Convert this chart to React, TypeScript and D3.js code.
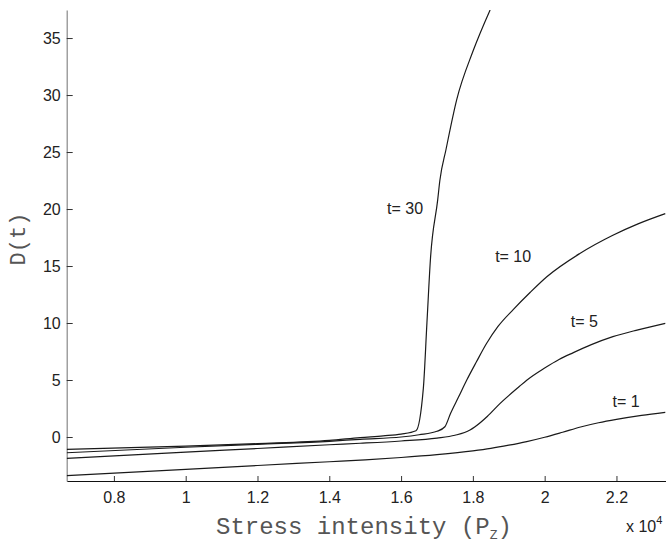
import { useRef, useEffect } from "react";
import * as d3 from "d3";

// stress intensity in units of 10^4
const xTicks = [0.8, 1, 1.2, 1.4, 1.6, 1.8, 2, 2.2];
const yTicks = [0, 5, 10, 15, 20, 25, 30, 35];

const t1X = [0.6685, 1.0, 1.2, 1.4, 1.5, 1.6, 1.7, 1.8, 1.85, 1.9, 1.95, 2.0, 2.05, 2.1, 2.15, 2.2, 2.27, 2.336];
const t1Y = [-3.39, -2.84, -2.5, -2.17, -2.0, -1.8, -1.55, -1.22, -1.0, -0.72, -0.4, -0.02, 0.42, 0.88, 1.25, 1.55, 1.9, 2.17];

const t5X = [0.6685, 1.0, 1.2, 1.4, 1.486, 1.6, 1.7, 1.75, 1.792, 1.806, 1.84, 1.876, 1.93, 1.95, 2.0, 2.04, 2.08, 2.13, 2.19, 2.26, 2.336];
const t5Y = [-1.87, -1.33, -1.01, -0.68, -0.55, -0.35, -0.1, 0.15, 0.61, 0.9, 1.8, 2.95, 4.45, 4.98, 6.05, 6.8, 7.4, 8.1, 8.8, 9.4, 9.97];

const t10X = [0.6685, 1.0, 1.2, 1.4, 1.486, 1.6, 1.65, 1.7, 1.722, 1.738, 1.76, 1.783, 1.81, 1.838, 1.87, 1.913, 1.96, 2.006, 2.098, 2.19, 2.26, 2.336];
const t10Y = [-1.38, -0.9, -0.64, -0.38, -0.2, 0.0, 0.2, 0.5, 0.9, 2.08, 3.5, 5.0, 6.6, 8.2, 9.7, 11.2, 12.7, 14.06, 16.1, 17.7, 18.7, 19.6];

const t30X = [0.6685, 1.0, 1.2, 1.4, 1.486, 1.55, 1.6, 1.6415, 1.662, 1.672, 1.682, 1.702, 1.708, 1.725, 1.755, 1.801, 1.848];
const t30Y = [-1.08, -0.8, -0.58, -0.3, -0.05, 0.1, 0.25, 0.55, 4.27, 10, 15.7, 20.8, 22.5, 25.2, 29.6, 33.9, 37.46];

const seriesNames = ["t= 1", "t= 5", "t= 10", "t= 30"];
const labelX = [2.189, 2.073, 1.862, 1.561];
const labelY = [2.66, 9.68, 15.38, 19.56];

export default function App() {
  const ref = useRef<SVGSVGElement>(null);

  useEffect(() => {
    const svg = d3.select(ref.current);
    svg.selectAll("*").remove();

    const width = 666;
    const height = 545;
    const margin = { top: 10, right: 0, bottom: 64, left: 66.7 };

    svg.attr("width", width).attr("height", height);

    const x = d3.scaleLinear()
      .domain([0.6685, 2.338])
      .range([margin.left, width - margin.right]);

    const y = d3.scaleLinear()
      .domain([-3.86, 37.46])
      .range([height - margin.bottom, margin.top]);

    svg.append("defs").append("clipPath")
      .attr("id", "plot-clip")
      .append("rect")
      .attr("x", margin.left)
      .attr("y", margin.top)
      .attr("width", width - margin.left - margin.right)
      .attr("height", height - margin.top - margin.bottom);

    const sansFont = "'Liberation Sans', Arial, Helvetica, sans-serif";
    const monoFont = "'Liberation Mono', 'Courier New', monospace";

    // x axis, ticks pointing inward
    const gx = svg.append("g")
      .attr("transform", `translate(0,${height - margin.bottom})`)
      .call(d3.axisBottom(x)
        .tickValues(xTicks)
        .tickSize(-5)
        .tickSizeOuter(0)
        .tickPadding(11)
        .tickFormat(d => String(+(+d).toFixed(1))));
    gx.select(".domain").attr("stroke", "#111").attr("stroke-width", 1.2);
    gx.selectAll(".tick line").attr("stroke", "#333");
    gx.selectAll(".tick text")
      .attr("font-family", sansFont)
      .attr("font-size", 16)
      .attr("fill", "#222");

    // y axis
    const gy = svg.append("g")
      .attr("transform", `translate(${margin.left},0)`)
      .call(d3.axisLeft(y)
        .tickValues(yTicks)
        .tickSize(-6)
        .tickSizeOuter(0)
        .tickPadding(6));
    gy.select(".domain").attr("stroke", "#888").attr("stroke-width", 1.2);
    gy.selectAll(".tick line").attr("stroke", "#333");
    gy.selectAll(".tick text")
      .attr("font-family", sansFont)
      .attr("font-size", 16)
      .attr("fill", "#222");

    const line = d3.line<[number, number]>()
      .x(d => x(d[0]))
      .y(d => y(d[1]))
      .curve(d3.curveMonotoneX);

    const series: [number[], number[]][] = [[t1X, t1Y], [t5X, t5Y], [t10X, t10Y], [t30X, t30Y]];

    const plot = svg.append("g").attr("clip-path", "url(#plot-clip)");
    series.forEach(([xs, ys]) => {
      const pts = xs.map((v, i) => [v, ys[i]] as [number, number]);
      plot.append("path")
        .attr("d", line(pts))
        .attr("fill", "none")
        .attr("stroke", "#1a1a1a")
        .attr("stroke-width", 1.2);
    });

    seriesNames.forEach((name, i) => {
      svg.append("text")
        .attr("x", x(labelX[i]))
        .attr("y", y(labelY[i]))
        .attr("font-family", sansFont)
        .attr("font-size", 16)
        .attr("fill", "#222")
        .text(name);
    });

    // axis titles
    const xl = svg.append("text")
      .attr("x", 216)
      .attr("y", 534)
      .attr("font-family", monoFont)
      .attr("font-size", 24)
      .attr("fill", "#555")
      .attr("xml:space", "preserve");
    xl.append("tspan").text("Stress intensity (P");
    xl.append("tspan").attr("font-size", 13).attr("dy", 5).text("Z");
    xl.append("tspan").attr("dy", -5).text(")");

    svg.append("text")
      .attr("transform", `translate(25,239) rotate(-90)`)
      .attr("text-anchor", "middle")
      .attr("font-family", monoFont)
      .attr("font-size", 22)
      .attr("fill", "#555")
      .text("D(t)");

    const ex = svg.append("text")
      .attr("x", 626)
      .attr("y", 531.5)
      .attr("font-family", sansFont)
      .attr("font-size", 16)
      .attr("fill", "#222");
    ex.append("tspan").text("x 10");
    ex.append("tspan").attr("font-size", 11).attr("dy", -8).text("4");
  }, []);

  return (
    <svg
      ref={ref}
      style={{ position: "absolute", left: 0, top: 0, background: "#fff" }}
    ></svg>
  );
}
